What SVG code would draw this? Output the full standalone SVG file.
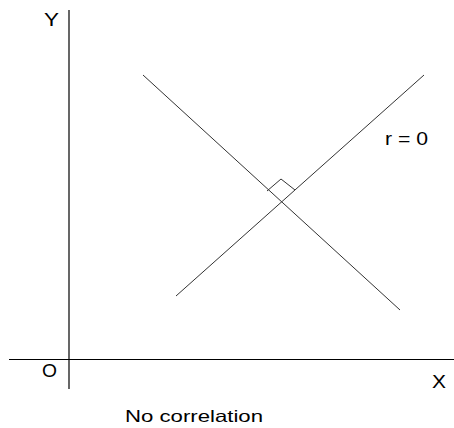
<svg xmlns="http://www.w3.org/2000/svg" width="454" height="428" viewBox="0 0 454 428">
<style>
.ax{stroke:#000;stroke-width:1.2;fill:none}
.ln{stroke:#333;stroke-width:1;fill:none}
.t{font-family:"Liberation Sans",Arial,sans-serif;font-size:18px;fill:#000}
.s{font-size:16.5px}
</style>
<rect width="454" height="428" fill="#fff"/>
<g id="axes">
<line class="ax" x1="69" y1="10" x2="69" y2="389"/>
<line class="ax" x1="9" y1="359.5" x2="454" y2="359.5"/>
</g>
<g id="connectors">
<line class="ln" x1="143" y1="75" x2="400" y2="310"/>
<line class="ln" x1="176" y1="296" x2="424" y2="75"/>
<polyline class="ln" points="267,191 281,179 295,190"/>
</g>
<g id="labels">
<text class="t" x="44" y="26" textLength="15" lengthAdjust="spacingAndGlyphs">Y</text>
<text class="t" x="42" y="377" textLength="15" lengthAdjust="spacingAndGlyphs">O</text>
<text class="t" x="432" y="388" textLength="14" lengthAdjust="spacingAndGlyphs">X</text>
<text class="t" x="385" y="145" textLength="43" lengthAdjust="spacingAndGlyphs">r = 0</text>
<text class="t s" x="125" y="421.5" textLength="138" lengthAdjust="spacingAndGlyphs">No correlation</text>
</g>
</svg>
